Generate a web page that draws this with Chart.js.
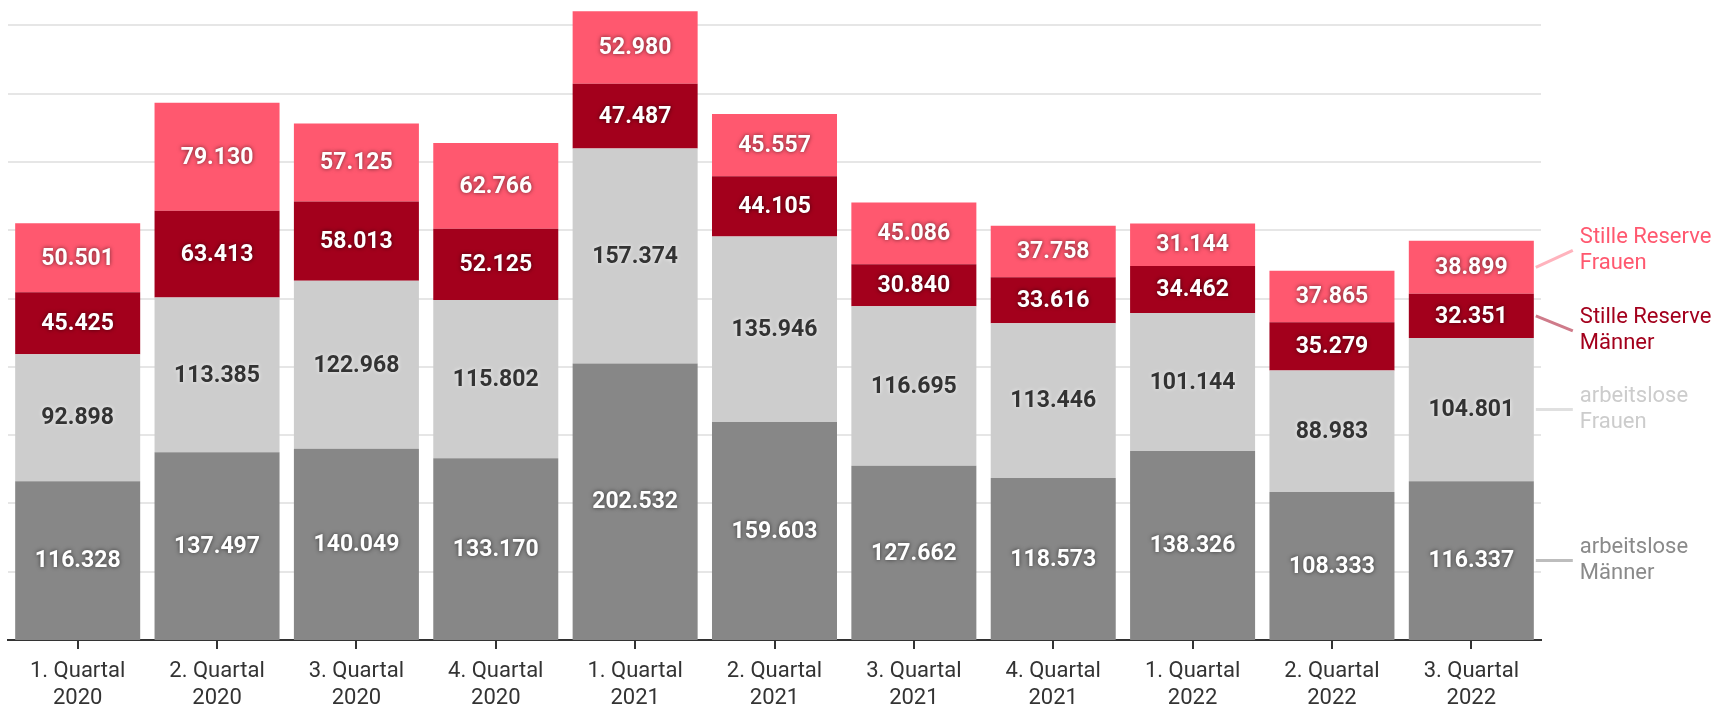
<!DOCTYPE html>
<html>
<head>
<meta charset="utf-8">
<script src="https://cdn.jsdelivr.net/npm/chart.js@4/dist/chart.umd.min.js"></script>
<style>
html,body{margin:0;padding:0;background:#fff;}
#wrap{width:1717px;height:709px;position:relative;}
</style>
</head>
<body>
<div id="wrap"><canvas id="c" width="1717" height="709"></canvas></div>
<script>
const categories = [
  ["1. Quartal","2020"],["2. Quartal","2020"],["3. Quartal","2020"],["4. Quartal","2020"],
  ["1. Quartal","2021"],["2. Quartal","2021"],["3. Quartal","2021"],["4. Quartal","2021"],
  ["1. Quartal","2022"],["2. Quartal","2022"],["3. Quartal","2022"]
];
const arbeitsloseMaenner = [116328,137497,140049,133170,202532,159603,127662,118573,138326,108333,116337];
const arbeitsloseFrauen  = [92898,113385,122968,115802,157374,135946,116695,113446,101144,88983,104801];
const stilleReserveMaenner = [45425,63413,58013,52125,47487,44105,30840,33616,34462,35279,32351];
const stilleReserveFrauen  = [50501,79130,57125,62766,52980,45557,45086,37758,31144,37865,38899];
const seriesNames = [["arbeitslose","Männer"],["arbeitslose","Frauen"],["Stille Reserve","Männer"],["Stille Reserve","Frauen"]];
const gridValues = [50000,100000,150000,200000,250000,300000,350000,400000,450000];
const yMax = 465000;

const colors = ['#878787','#cdcdcd','#a3001c','#ff586f'];
const labelTextColors = ['#8a8a8a','#cccccc','#a3001c','#ff586f'];
const connectorColors = ['#bdbdbd','#e0e0e0','#cf7b8a','#ffb3bd'];
const valueColors = ['#ffffff','#333333','#ffffff','#ffffff'];
const valueShadow = ['rgba(0,0,0,0.6)','rgba(255,255,255,0.8)','rgba(0,0,0,0.6)','rgba(0,0,0,0.6)'];
const labelOffsets = [0,0,15,-17];

const fmt = v => String(v).replace(/\B(?=(\d{3})+(?!\d))/g,'.');

const gridLines = {
  id:'gridLines',
  beforeDatasetsDraw(chart){
    const ctx = chart.ctx, ys = chart.scales.y, ca = chart.chartArea;
    ctx.save();
    ctx.strokeStyle = '#e6e6e6';
    ctx.lineWidth = 2;
    gridValues.forEach(v=>{
      const y = Math.round(ys.getPixelForValue(v));
      ctx.beginPath();
      ctx.moveTo(ca.left, y);
      ctx.lineTo(ca.right, y);
      ctx.stroke();
    });
    ctx.restore();
  }
};

const valueLabels = {
  id:'valueLabels',
  afterDatasetsDraw(chart){
    const ctx = chart.ctx;
    ctx.save();
    ctx.font = 'bold 23px Roboto';
    ctx.textAlign='center';
    ctx.textBaseline='middle';
    chart.data.datasets.forEach((ds,di)=>{
      const meta = chart.getDatasetMeta(di);
      meta.data.forEach((bar,i)=>{
        const y = (bar.y + bar.base)/2;
        ctx.shadowColor = valueShadow[di];
        ctx.shadowBlur = 4;
        ctx.fillStyle = valueColors[di];
        ctx.fillText(fmt(ds.data[i]), bar.x, y+1);
        ctx.shadowBlur = 0;
        ctx.shadowColor = 'transparent';
      });
    });
    ctx.font = '22px Roboto';
    ctx.textAlign='left';
    chart.data.datasets.forEach((ds,di)=>{
      const meta = chart.getDatasetMeta(di);
      const bar = meta.data[meta.data.length-1];
      const y0 = (bar.y + bar.base)/2;
      const y1 = y0 + labelOffsets[di];
      const x0 = bar.x + bar.width/2 + 2;
      const x1 = x0 + 37;
      ctx.strokeStyle = connectorColors[di];
      ctx.lineWidth = 3;
      ctx.beginPath();
      ctx.moveTo(x0,y0);
      ctx.lineTo(x1,y1);
      ctx.stroke();
      ctx.fillStyle = labelTextColors[di];
      const lines = seriesNames[di];
      ctx.fillText(lines[0], x1+7, y1-13);
      ctx.fillText(lines[1], x1+7, y1+13);
    });
    ctx.restore();
  }
};

new Chart(document.getElementById('c'),{
  type:'bar',
  data:{
    labels:categories,
    datasets:[
      {label:'arbeitslose Männer',data:arbeitsloseMaenner,backgroundColor:colors[0]},
      {label:'arbeitslose Frauen',data:arbeitsloseFrauen,backgroundColor:colors[1]},
      {label:'Stille Reserve Männer',data:stilleReserveMaenner,backgroundColor:colors[2]},
      {label:'Stille Reserve Frauen',data:stilleReserveFrauen,backgroundColor:colors[3]}
    ]
  },
  options:{
    responsive:false,
    animation:false,
    devicePixelRatio:1,
    layout:{padding:{left:8,right:176,top:5,bottom:0}},
    datasets:{bar:{categoryPercentage:1,barPercentage:0.897,borderWidth:0}},
    plugins:{legend:{display:false},tooltip:{enabled:false}},
    scales:{
      x:{
        stacked:true,
        afterFit(s){ s.height = 69; },
        grid:{display:true,drawOnChartArea:false,drawTicks:true,tickLength:9,offset:false,color:'#333',lineWidth:2},
        border:{display:true,color:'#333',width:2},
        ticks:{color:'#333',font:{family:'Roboto',size:22,lineHeight:1.23},padding:9,maxRotation:0,autoSkip:false}
      },
      y:{
        stacked:true,
        min:0,max:yMax,
        afterFit(s){ s.width = 0; },
        ticks:{display:false},
        border:{display:false},
        grid:{display:false}
      }
    }
  },
  plugins:[gridLines, valueLabels]
});
</script>
</body>
</html>
